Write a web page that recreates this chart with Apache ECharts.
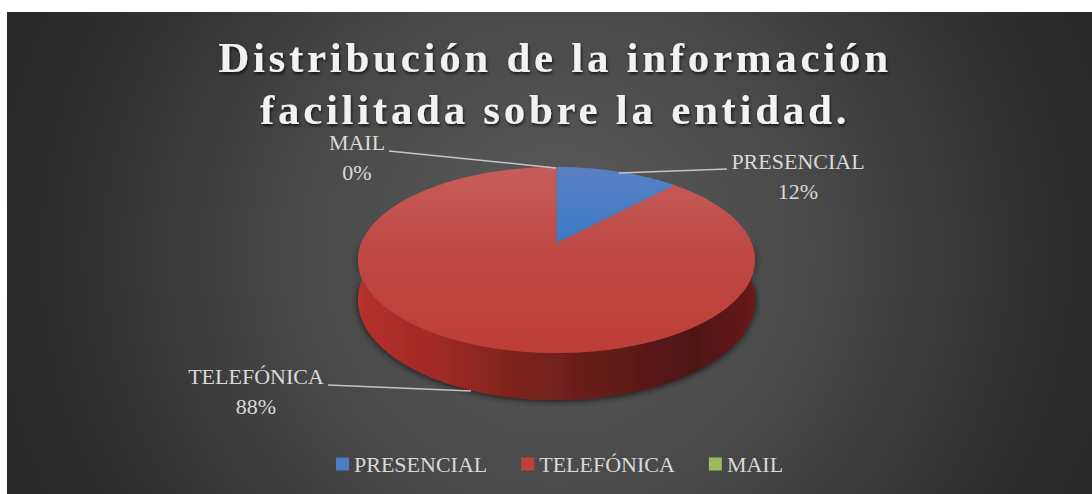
<!DOCTYPE html>
<html><head><meta charset="utf-8">
<style>
html,body{margin:0;padding:0;background:#fff}
#c{width:1092px;height:494px}
#c svg text[style*="bold"]{letter-spacing:3.7px}
</style>
<script src="https://cdn.jsdelivr.net/npm/echarts@6/dist/echarts.min.js"></script>
</head><body><div id="c"></div>
<script>
const titleText = 'Distribución de la información\nfacilitada sobre la entidad.';
const categories = ['PRESENCIAL','TELEFÓNICA','MAIL'];
const shares = [12, 88, 0];
const colors = ['#4a7ec4','#c0403c','#9bbb59'];

const FONT = '"Liberation Serif", serif';
const total = shares.reduce((a,b)=>a+b,0);
// tilted disc: a unit circle seen in perspective
const P = {cx:556.5, cy:243, A:89.9, B:195.2, k:0.1827, D:38.4};
function proj(deg, drop){
  const t = deg*Math.PI/180, X = Math.sin(t), Y = Math.cos(t), w = 1+P.k*Y;
  return [P.cx + P.B*X/w, P.cy - P.A*Y/w + (drop?P.D/w:0)];
}
function arc(a,b,drop){ const out=[]; const n=Math.max(2,Math.ceil(Math.abs(b-a))); for(let i=0;i<=n;i++) out.push(proj(a+(b-a)*i/n,drop)); return out; }
const labelPos = [
  {x:798,y:176,line:[[727,169],[619,173]]},
  {x:256,y:391,line:[[328,385],[471,391]]},
  {x:357,y:157,line:[[389,151],[556,168]]}
];
const faceFill = [
  {type:'linear',x:0,y:0,x2:0,y2:1,colorStops:[{offset:0,color:'#5a80c4'},{offset:1,color:'#3a7ac6'}]},
  {type:'linear',x:0,y:0,x2:0,y2:1,colorStops:[{offset:0,color:'#c65d5a'},{offset:.5,color:'#bd4743'},{offset:1,color:'#bf3d38'}]},
  colors[2]
];
const wallFill = {type:'linear',x:0,y:0,x2:1,y2:0,colorStops:[
  {offset:0,color:'#b5302c'},{offset:.2,color:'#a02a26'},{offset:.4,color:'#7d231d'},
  {offset:.6,color:'#661d18'},{offset:.85,color:'#4e1411'},{offset:1,color:'#6a1a16'}]};

function render(idx){
  return function(params, api){
    const v = api.value(0);
    const start = shares.slice(0,idx).reduce((a,b)=>a+b,0)/total*360;
    const end = start + v/total*360;
    const kids = [];
    if (idx===1){
      const up = arc(90,270,false), low = arc(270,90,true);
      kids.push({type:'polygon',shape:{points:up.concat(low)},
        style:{fill:wallFill,shadowBlur:7,shadowColor:'rgba(0,0,0,.75)',shadowOffsetY:1}});
    }
    if (v>0){
      kids.push({type:'polygon',shape:{points:[[P.cx,P.cy]].concat(arc(start,end,false))},style:{fill:faceFill[idx]}});
    }
    const L = labelPos[idx];
    kids.push({type:'polyline',shape:{points:L.line},style:{stroke:'#c4c4c4',lineWidth:1.5,fill:'none'}});
    kids.push({type:'text',style:{text:categories[idx]+'\n'+Math.round(v/total*100)+'%',x:L.x,y:L.y,
      align:'center',verticalAlign:'middle',font:'22px '+FONT,lineHeight:30,fill:'#d9d9d9'}});
    return {type:'group',children:kids};
  };
}
const chart = echarts.init(document.getElementById('c'),null,{renderer:'svg',width:1092,height:494});
chart.setOption({
  animation:false,
  backgroundColor:'#ffffff',
  graphic:[{type:'rect',z:-10,silent:true,shape:{x:7,y:12,width:1085,height:482},
    style:{fill:{type:'radial',global:true,x:556,y:253,r:590,colorStops:[
      {offset:0,color:'#5c5c5c'},{offset:.45,color:'#484848'},{offset:.75,color:'#333333'},{offset:.92,color:'#2a2a2a'},{offset:1,color:'#272727'}]}}}],
  title:{text:titleText,left:555,textAlign:'center',top:31,padding:0,textStyle:{color:'#f2f2f2',fontFamily:FONT,fontWeight:'bold',fontSize:43,lineHeight:52,
    textShadowColor:'rgba(0,0,0,.7)',textShadowBlur:3,textShadowOffsetX:1,textShadowOffsetY:2}},
  legend:{data:categories,left:336,top:453,padding:0,icon:'rect',itemWidth:13,itemHeight:13,itemGap:34,
    textStyle:{color:'#d9d9d9',fontFamily:FONT,fontSize:22}},
  series:categories.map((name,i)=>({type:'custom',name,coordinateSystem:'none',
    itemStyle:{color:colors[i]},data:[[shares[i]]],renderItem:render(i),silent:true}))
});
</script></body></html>
